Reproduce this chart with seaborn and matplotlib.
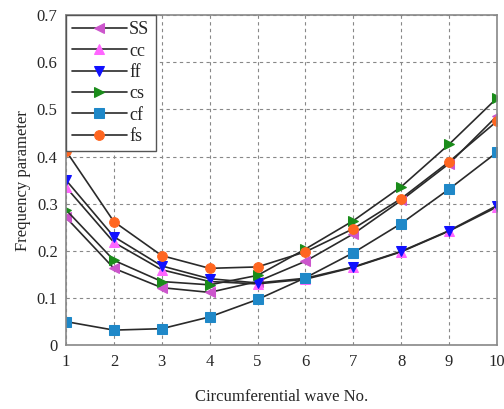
import matplotlib
matplotlib.use('Agg')
import matplotlib.pyplot as plt
import seaborn as sns
import pandas as pd

wave_no = [1, 2, 3, 4, 5, 6, 7, 8, 9, 10]
ss = [0.271, 0.163, 0.122, 0.112, 0.135, 0.178, 0.236, 0.307, 0.385, 0.486]
cc = [0.335, 0.218, 0.160, 0.135, 0.130, 0.140, 0.165, 0.198, 0.242, 0.293]
ff = [0.350, 0.230, 0.168, 0.141, 0.132, 0.142, 0.166, 0.199, 0.243, 0.296]
cs = [0.287, 0.180, 0.135, 0.128, 0.148, 0.204, 0.264, 0.336, 0.426, 0.524]
cf = [0.050, 0.032, 0.035, 0.060, 0.097, 0.143, 0.196, 0.258, 0.331, 0.409]
fs = [0.412, 0.262, 0.190, 0.163, 0.166, 0.198, 0.247, 0.311, 0.389, 0.475]

sns.set_style('white')
plt.rcParams['font.family'] = ['Liberation Serif', 'DejaVu Serif']

fig = plt.figure(figsize=(5.04, 4.09), dpi=100)
ax = fig.add_axes([0.131, 0.156, 0.855, 0.807])

series = [
    ('SS', ss, '<', '#cc55cc'),
    ('cc', cc, '^', '#ff66ff'),
    ('ff', ff, 'v', '#1010ff'),
    ('cs', cs, '>', '#1a8c1a'),
    ('cf', cf, 's', '#1f88c8'),
    ('fs', fs, 'o', '#ff6620'),
]
for name, vals, mk, col in series:
    df = pd.DataFrame({'n': wave_no, 'f': vals})
    sns.lineplot(data=df, x='n', y='f', ax=ax, color='#2a2a2a', lw=1.2,
                 marker=mk, markersize=7, markerfacecolor=col,
                 markeredgecolor=col, label=name)

ax.set_xlim(1, 10)
ax.set_ylim(0, 0.7)
ax.set_xticks(wave_no)
ax.set_yticks([0, 0.1, 0.2, 0.3, 0.4, 0.5, 0.6, 0.7])
ax.set_yticklabels(['0', '0.1', '0.2', '0.3', '0.4', '0.5', '0.6', '0.7'])
ax.grid(True, ls=(0, (3, 3)), color='#888888', lw=0.8)
for s in ax.spines.values():
    s.set_color('#888888')
    s.set_linewidth(1.2)
ax.tick_params(labelsize=12, length=0, pad=6)
ax.set_xlabel('Circumferential wave No.', fontsize=12, labelpad=14)
ax.set_ylabel('Frequency parameter', fontsize=12, labelpad=4)

leg = ax.legend(loc='upper left', fontsize=13, handlelength=3.0,
                labelspacing=0.24, borderaxespad=0.0, fancybox=False,
                framealpha=1, borderpad=0.35, handletextpad=0.15)
leg.get_frame().set_edgecolor('#555555')

fig.savefig('out.png', dpi=100)
